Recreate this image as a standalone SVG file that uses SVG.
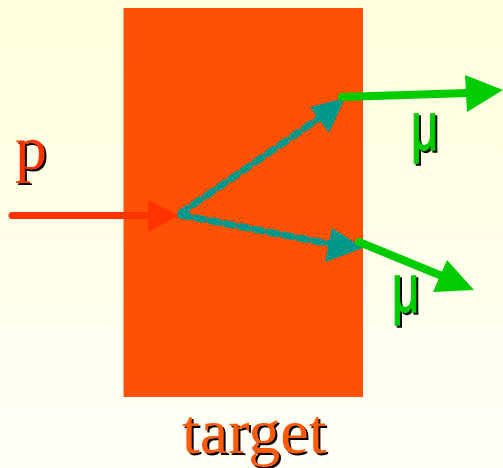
<svg xmlns="http://www.w3.org/2000/svg" width="503" height="468" viewBox="0 0 503 468">
  <defs>
    <linearGradient id="bg" x1="0" y1="0" x2="0" y2="1">
      <stop offset="0" stop-color="#ffffdc"/>
      <stop offset="1" stop-color="#fffff6"/>
    </linearGradient>
  </defs>
  <style>
    .serif { font-family: "Liberation Serif", "Times New Roman", serif; font-size: 64px; }
    .sans { font-family: "Liberation Sans", Arial, sans-serif; font-size: 68px; }
    .shadow { fill: #000000; }
    .sans.shadow { stroke: #000000; stroke-width: 1.5; }
    .red { fill: #ff3300; }
    .orange { fill: #ff5a0a; }
    .green { fill: #00cc00; stroke: #00cc00; stroke-width: 1.5; }
    .beam { stroke: #ff3300; stroke-width: 7; stroke-linecap: round; fill: none; }
    .dash { stroke: #00988a; stroke-width: 7; stroke-linecap: round; stroke-dasharray: 8 7; fill: none; }
    .muon { stroke: #00cc00; stroke-width: 8; stroke-linecap: round; fill: none; }
    .headR { fill: #ff3300; }
    .headT { fill: #00988a; }
    .headG { fill: #00cc00; }
  </style>
  <rect x="0" y="0" width="503" height="468" fill="url(#bg)"/>

  <g id="target">
    <rect x="123.5" y="8" width="239.5" height="389" fill="#ff5106"/>
    <text class="serif shadow" x="184" y="454.5">target</text>
    <text class="serif orange" x="182" y="452.5">target</text>
  </g>

  <g id="label-p">
    <text class="serif shadow" x="17" y="171">p</text>
    <text class="serif red" x="15" y="169">p</text>
  </g>

  <g id="label-mu1">
    <text class="sans shadow" transform="translate(413,152) scale(0.7,1)" x="0" y="0">μ</text>
    <text class="sans green" transform="translate(411,150) scale(0.7,1)" x="0" y="0">μ</text>
  </g>

  <g id="label-mu2">
    <text class="sans shadow" transform="translate(394,314) scale(0.7,1)" x="0" y="0">μ</text>
    <text class="sans green" transform="translate(392,312) scale(0.7,1)" x="0" y="0">μ</text>
  </g>

  <g id="connectors">
    <line class="beam" x1="12" y1="215.5" x2="150" y2="215.5"/>
    <polygon class="headR" points="148,200 179,215.5 148,232"/>

    <line class="dash" x1="181" y1="213" x2="318" y2="119"/>
    <polygon class="headT" points="310,107 345,98 329,133"/>

    <line class="dash" x1="181" y1="215" x2="330" y2="244"/>
    <polygon class="headT" points="332,228 363,248 325,262"/>

    <line class="muon" x1="342" y1="97" x2="468" y2="93"/>
    <polygon class="headG" points="465,75 503,90 467,112"/>

    <line class="muon" x1="359" y1="242" x2="442" y2="276"/>
    <polygon class="headG" points="447,260 474,290 433,292"/>
  </g>
</svg>
